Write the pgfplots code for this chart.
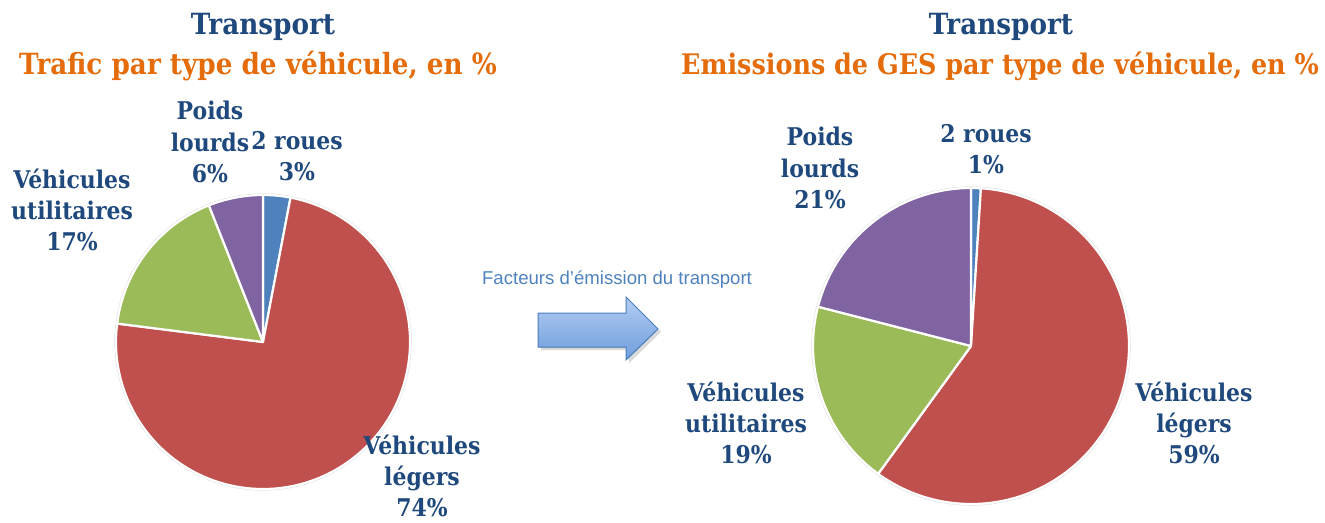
\documentclass[border=0pt]{standalone}
\usepackage{pgfplots}
\pgfplotsset{compat=1.18}
\usepackage{pgfplotstable}
\usepackage{fontspec}
\setmainfont{DejaVu Serif Condensed}
\newfontfamily\sansf{Liberation Sans}
\usetikzlibrary{shadows}

\definecolor{pieblue}{HTML}{4F81BD}
\definecolor{piered}{HTML}{C0504D}
\definecolor{piegreen}{HTML}{9BBB59}
\definecolor{piepurple}{HTML}{8064A2}
\definecolor{titleblue}{HTML}{1F497D}
\definecolor{titleorange}{HTML}{E46C0A}
\definecolor{arrowtext}{HTML}{4F81BD}
\definecolor{arrowtop}{HTML}{B3CDF2}
\definecolor{arrowbot}{HTML}{6E9DDD}
\definecolor{arrowedge}{HTML}{4A7EBB}

\tikzset{
  lbl/.style={text=titleblue, align=center, font=\fontsize{12.2}{15.6}\selectfont\bfseries},
  ttl/.style={align=center, font=\fontsize{14.6}{18}\selectfont\bfseries},
}

\pgfplotstableread{
part value col
roues 3 pieblue
legers 74 piered
utilitaires 17 piegreen
poids 6 piepurple
}\trafic

\pgfplotstableread{
part value col
roues 1 pieblue
legers 59 piered
utilitaires 19 piegreen
poids 21 piepurple
}\emissions

% #1 table, #2 cx, #3 cy (image px), #4 radius (pt)
\newcommand\drawpie[4]{%
  \edef\temp{\noexpand\fill[gray!25] (axis cs:#2,#3) circle[radius=#4+0.8pt];}\temp
  \def\curang{90}%
  \pgfplotsforeachungrouped \i in {0,...,3}{%
    \pgfplotstablegetelem{\i}{value}\of#1%
    \let\val\pgfplotsretval
    \pgfplotstablegetelem{\i}{col}\of#1%
    \let\col\pgfplotsretval
    \pgfmathsetmacro\endang{\curang-3.6*\val}%
    \edef\temp{\noexpand\fill[\col, draw=white, line width=1.1pt, line join=round]
      (axis cs:#2,#3) -- ([shift={(\curang:#4)}]axis cs:#2,#3)
      arc[start angle=\curang, end angle=\endang, radius=#4] -- cycle;}%
    \temp
    \let\curang\endang
  }%
}

\begin{document}
\begin{tikzpicture}
\begin{axis}[
  scale only axis, width=662.5pt, height=261.5pt,
  xmin=0, xmax=1325, ymin=0, ymax=523, y dir=reverse,
  hide axis, clip=false, at={(0,0)}, anchor=north west,
]
\addplot[draw=none, forget plot] coordinates {(0,0)};

\drawpie{\trafic}{263}{342}{73.5pt}
\drawpie{\emissions}{971}{346}{79pt}

% titles
\node[ttl, text=titleblue] at (axis cs:263,27) {Transport};
\node[ttl, text=titleorange] at (axis cs:258,66) {Trafic par type de véhicule, en \%};
\node[ttl, text=titleblue] at (axis cs:1001,27) {Transport};
\node[ttl, text=titleorange, font=\fontsize{14.15}{18}\selectfont\bfseries] at (axis cs:1000,66) {Emissions de GES par type de véhicule, en \%};

% left labels
\node[lbl] at (axis cs:210,142) {Poids\\lourds\\6\%};
\node[lbl] at (axis cs:297,156) {2 roues\\3\%};
\node[lbl] at (axis cs:72,210) {Véhicules\\utilitaires\\17\%};
\node[lbl] at (axis cs:422,476) {Véhicules\\légers\\74\%};

% right labels
\node[lbl] at (axis cs:820,168) {Poids\\lourds\\21\%};
\node[lbl] at (axis cs:986,149) {2 roues\\1\%};
\node[lbl] at (axis cs:746,423) {Véhicules\\utilitaires\\19\%};
\node[lbl] at (axis cs:1194,423) {Véhicules\\légers\\59\%};

% arrow
\node[text=arrowtext, font=\sansf\fontsize{9.3}{11}\selectfont] at (axis cs:617,280) {Facteurs d’émission du transport};
\filldraw[draw=arrowedge, line width=0.5pt, top color=arrowtop, bottom color=arrowbot, drop shadow={opacity=0.3, shadow xshift=1.5pt, shadow yshift=-1.5pt}]
  (axis cs:538,313) -- (axis cs:626,313) -- (axis cs:626,297) -- (axis cs:658,329)
  -- (axis cs:626,360) -- (axis cs:626,347) -- (axis cs:538,347) -- cycle;
\end{axis}
\pgfresetboundingbox
\path[use as bounding box] (0,0) rectangle (662.5pt,-261.5pt);
\end{tikzpicture}
\end{document}
